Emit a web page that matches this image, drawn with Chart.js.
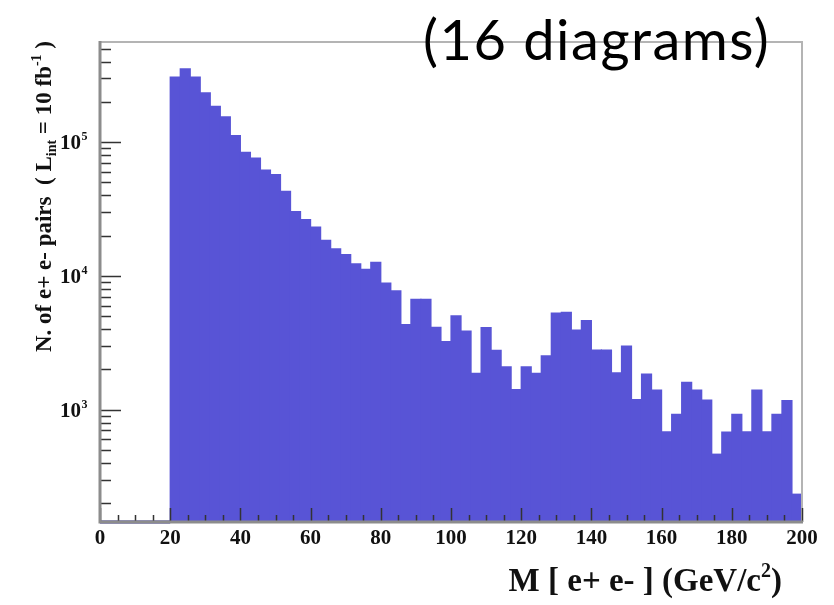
<!DOCTYPE html>
<html>
<head>
<meta charset="utf-8">
<script src="https://cdn.jsdelivr.net/npm/chart.js@4.4.0/dist/chart.umd.min.js"></script>
<style>
  html, body { margin: 0; padding: 0; background: #ffffff; }
  #wrap { width: 834px; height: 605px; }
</style>
</head>
<body>
<div id="wrap"><canvas id="c" width="834" height="605"></canvas></div>
<script>
// ---- data (bin width 200/70 GeV/c^2) ----
const massBinCenters = [
  21.43, 24.29, 27.14, 30.00, 32.86, 35.71, 38.57, 41.43, 44.29, 47.14,
  50.00, 52.86, 55.71, 58.57, 61.43, 64.29, 67.14, 70.00, 72.86, 75.71,
  78.57, 81.43, 84.29, 87.14, 90.00, 92.86, 95.71, 98.57, 101.43, 104.29,
  107.14, 110.00, 112.86, 115.71, 118.57, 121.43, 124.29, 127.14, 130.00, 132.86,
  135.71, 138.57, 141.43, 144.29, 147.14, 150.00, 152.86, 155.71, 158.57, 161.43,
  164.29, 167.14, 170.00, 172.86, 175.71, 178.57, 181.43, 184.29, 187.14, 190.00,
  192.86, 195.71, 198.57
];
const pairCounts = [
  306000, 353000, 306000, 234000, 185500, 154500, 111900, 83900, 76100, 61700,
  57100, 42800, 30300, 26300, 23200, 18400, 15900, 14400, 12300, 11200,
  12600, 8820, 7720, 4330, 6690, 6690, 4130, 3220, 5020, 3870,
  1870, 4100, 2770, 2090, 1410, 2090, 1870, 2520, 5280, 5330,
  3940, 4640, 2790, 2790, 1880, 2990, 1190, 1840, 1400, 682,
  921, 1600, 1400, 1180, 464, 679, 921, 682, 1400, 682,
  921, 1170, 233
];
const emptyBinRange = [0, 20];            // bins with zero entries (drawn on the baseline)
const xMajorTicks = [0, 20, 40, 60, 80, 100, 120, 140, 160, 180, 200];
const xMinorStep = 5;
const yDecadeExponents = [3, 4, 5];
const xRange = [0, 200];
const yRange = [144.4, 561000];
const titleText = "(16 diagrams)";
const xTitleParts = [["M [ e+ e- ] (GeV/c", 0], ["2", 1], [")", 0]];
const yTitleParts = [["N. of e+ e- pairs  ( L", 0], ["int", -1], [" = 10 fb", 0], ["-1", 1], [" )", 0]];

// ---- styles ----
const FILL = "rgb(88,84,214)";
const SERIF = "'Liberation Serif', 'DejaVu Serif', serif";

function drawRich(ctx, parts, x, y, align, size) {
  const supSize = Math.round(size * 0.6);
  const fontFor = (lvl) => "bold " + (lvl === 0 ? size : supSize) + "px " + SERIF;
  let total = 0;
  for (const [t, lvl] of parts) { ctx.font = fontFor(lvl); total += ctx.measureText(t).width; }
  let cx = align === "right" ? x - total : (align === "center" ? x - total / 2 : x);
  ctx.textAlign = "left";
  ctx.textBaseline = "alphabetic";
  for (const [t, lvl] of parts) {
    ctx.font = fontFor(lvl);
    const dy = lvl === 1 ? -size * 0.42 : (lvl === -1 ? size * 0.22 : 0);
    ctx.fillText(t, cx, y + dy);
    cx += ctx.measureText(t).width;
  }
}

const decorPlugin = {
  id: "decor",
  beforeDraw(chart) {
    const ctx = chart.ctx;
    ctx.save();
    ctx.fillStyle = "#ffffff";
    ctx.fillRect(0, 0, chart.width, chart.height);
    ctx.restore();
  },
  afterDatasetsDraw(chart) {
    const ctx = chart.ctx;
    const xs = chart.scales.x, ys = chart.scales.y;
    const a = chart.chartArea;
    ctx.save();

    // frame (top / right lighter)
    ctx.strokeStyle = "#b4b4b4";
    ctx.lineWidth = 2;
    ctx.beginPath();
    ctx.moveTo(a.left, a.top); ctx.lineTo(a.right, a.top); ctx.lineTo(a.right, a.bottom);
    ctx.stroke();

    // x ticks (inward)
    ctx.strokeStyle = "#333333";
    ctx.lineWidth = 1.5;
    ctx.beginPath();
    for (let v = xRange[0]; v <= xRange[1] + 1e-9; v += xMinorStep) {
      const px = Math.round(xs.getPixelForValue(v)) + 0.5;
      const major = xMajorTicks.includes(v);
      ctx.moveTo(px, a.bottom);
      ctx.lineTo(px, a.bottom - (major ? 14 : 7));
    }
    ctx.stroke();

    // y ticks (inward, log)
    ctx.beginPath();
    for (let e = 2; e <= 5; e++) {
      for (let m = 1; m <= 9; m++) {
        const v = m * Math.pow(10, e);
        if (v < yRange[0] || v > yRange[1]) continue;
        const py = Math.round(ys.getPixelForValue(v)) + 0.5;
        ctx.moveTo(a.left, py);
        ctx.lineTo(a.left + (m === 1 ? 21 : 11), py);
      }
    }
    ctx.stroke();

    // axis lines
    ctx.strokeStyle = "#8c8c8c";
    ctx.lineWidth = 3;
    ctx.beginPath();
    ctx.moveTo(a.left, a.top - 1); ctx.lineTo(a.left, a.bottom); ctx.lineTo(a.right + 1, a.bottom);
    ctx.stroke();

    // x tick labels
    ctx.fillStyle = "#111111";
    ctx.font = "bold 21px " + SERIF;
    ctx.textAlign = "center";
    ctx.textBaseline = "alphabetic";
    for (const v of xMajorTicks) {
      ctx.fillText(String(v), xs.getPixelForValue(v), a.bottom + 22);
    }

    // y tick labels 10^n
    for (const e of yDecadeExponents) {
      const py = ys.getPixelForValue(Math.pow(10, e));
      ctx.font = "bold 21px " + SERIF;
      ctx.textAlign = "right";
      ctx.fillText("10", 81, py + 7);
      ctx.font = "bold 12px " + SERIF;
      ctx.textAlign = "left";
      ctx.fillText(String(e), 81.5, py - 2);
    }

    // x title
    drawRich(ctx, xTitleParts, 782, 591, "right", 33);

    // y title (rotated)
    ctx.save();
    ctx.translate(51, 41);
    ctx.rotate(-Math.PI / 2);
    drawRich(ctx, yTitleParts, 0, 0, "right", 23);
    ctx.restore();

    // big annotation
    ctx.fillStyle = "#000000";
    ctx.font = "56px Lato, 'Open Sans', sans-serif";
    ctx.letterSpacing = "1.5px";
    ctx.textAlign = "left";
    ctx.textBaseline = "alphabetic";
    ctx.fillText(titleText, 423, 60);
    ctx.letterSpacing = "0px";

    ctx.restore();
  }
};

new Chart(document.getElementById("c"), {
  type: "bar",
  data: {
    datasets: [
      {
        type: "bar",
        data: massBinCenters.map((x, i) => ({ x: x, y: pairCounts[i] })),
        backgroundColor: FILL,
        borderWidth: 0,
        inflateAmount: 0.6,
        barPercentage: 1.0,
        categoryPercentage: 1.0,
        order: 2
      },
      {
        type: "line",
        data: emptyBinRange.map(x => ({ x: x, y: yRange[0] })),
        borderColor: "rgb(40,36,150)",
        borderWidth: 3,
        pointRadius: 0,
        fill: false,
        clip: false,
        order: 1
      }
    ]
  },
  options: {
    responsive: false,
    animation: false,
    devicePixelRatio: 1,
    layout: { padding: { left: 100, right: 32, top: 42, bottom: 83 } },
    plugins: { legend: { display: false }, tooltip: { enabled: false }, title: { display: false } },
    scales: {
      x: { type: "linear", min: xRange[0], max: xRange[1], offset: false, display: false },
      y: { type: "logarithmic", min: yRange[0], max: yRange[1], display: false }
    }
  },
  plugins: [decorPlugin]
});
</script>
</body>
</html>
